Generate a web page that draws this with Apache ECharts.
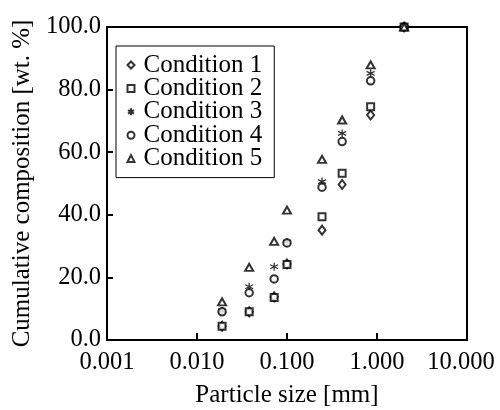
<!DOCTYPE html>
<html>
<head>
<meta charset="utf-8">
<script src="https://cdn.jsdelivr.net/npm/echarts@6/dist/echarts.min.js"></script>
<style>html,body{margin:0;padding:0;background:#fff}#c{width:500px;height:410px}</style>
</head>
<body>
<div id="c"></div>
<script>
const sizes = [0.019, 0.038, 0.072, 0.1, 0.245, 0.41, 0.85, 2.0];
const names = ['Condition 1', 'Condition 2', 'Condition 3', 'Condition 4', 'Condition 5'];
const cond1 = [4.4, 9.0, 13.8, 24.3, 35.1, 49.7, 71.9, 100];
const cond2 = [4.4, 9.0, 13.6, 24.1, 39.4, 53.3, 74.5, 100];
const cond3 = [9.3, 17.0, 23.4, 31.3, 50.6, 66.0, 85.2, 100];
const cond4 = [9.0, 15.1, 19.5, 31.0, 48.8, 63.4, 82.8, 100];
const cond5 = [12.2, 23.2, 31.5, 41.5, 57.7, 70.3, 87.9, 100];
const xTicks = ['0.001', '0.010', '0.100', '1.000', '10.000'];
const yTicks = ['0.0', '20.0', '40.0', '60.0', '80.0', '100.0'];

const FONT = '"Liberation Serif", "Times New Roman", serif';
const ASTER = 'path://M5,0 L5,10 M0.7,2.5 L9.3,7.5 M0.7,7.5 L9.3,2.5';
const symbols = ['emptyDiamond', 'emptyRect', ASTER, 'emptyCircle', 'emptyTriangle'];
const symSizes = [[7, 9], 7, [8, 8], 7.5, [8, 7]];
const all = [cond1, cond2, cond3, cond4, cond5];

const series = all.map((vals, i) => ({
  name: names[i],
  type: 'scatter',
  symbol: symbols[i],
  symbolSize: symSizes[i],
  data: vals.map((v, j) => [sizes[j], v]),
  itemStyle: { color: '#000', borderColor: '#000', borderWidth: 1.3 }
}));

const chart = echarts.init(document.getElementById('c'), null, { renderer: 'canvas' });
chart.setOption({
  animation: false,
  backgroundColor: '#fff',
  grid: { left: 107, right: 33, top: 27, bottom: 70, show: true, borderColor: '#000', borderWidth: 2,
          containLabel: false, outerBoundsMode: 'none' },
  legend: {
    orient: 'vertical',
    left: 116, top: 46,
    data: names,
    itemWidth: 7, itemHeight: 7,
    itemGap: -1.6,
    padding: [6.5, 12, 6.5, 10.5],
    borderColor: '#000', borderWidth: 1,
    backgroundColor: '#fff',
    textStyle: { fontFamily: FONT, fontSize: 25, color: '#000', padding: [0, 0, 0, 4] }
  },
  xAxis: {
    type: 'log', logBase: 10, min: 0.001, max: 10,
    name: 'Particle size [mm]', nameLocation: 'middle', nameGap: 43,
    nameTextStyle: { fontFamily: FONT, fontSize: 25, color: '#000' },
    axisLine: { lineStyle: { color: '#000', width: 2 } },
    axisTick: { inside: true, length: 7, lineStyle: { color: '#000', width: 2 } },
    splitLine: { show: false },
    axisLabel: {
      fontFamily: FONT, fontSize: 24.5, color: '#000', margin: 10,
      formatter: v => {
        const idx = Math.round(Math.log10(v)) + 3;
        const t = xTicks[idx];
        return idx === 4 ? '{m|' + t + '}' : t;
      },
      rich: { m: { fontFamily: FONT, fontSize: 24.5, color: '#000', padding: [0, 12, 0, 0] } }
    }
  },
  yAxis: {
    type: 'value', min: 0, max: 100, interval: 20,
    name: 'Cumulative composition [wt. %]', nameLocation: 'middle', nameGap: 70,
    nameTextStyle: { fontFamily: FONT, fontSize: 25, color: '#000' },
    axisLine: { show: true, lineStyle: { color: '#000', width: 2 } },
    axisTick: { show: true, inside: true, length: 6, lineStyle: { color: '#000', width: 2 } },
    splitLine: { show: false },
    axisLabel: {
      fontFamily: FONT, fontSize: 24.5, color: '#000', margin: 6,
      formatter: v => yTicks[Math.round(v / 20)]
    }
  },
  series: series
});
</script>
</body>
</html>
